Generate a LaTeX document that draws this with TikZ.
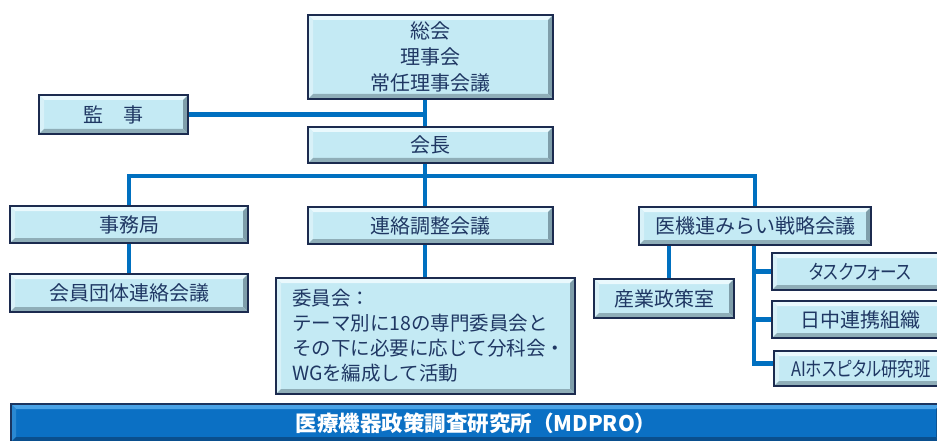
\documentclass[tikz,border=0pt]{standalone}
\usepackage{fontspec}
\setmainfont{Noto Sans CJK JP}
\newfontfamily\jpp[RawFeature=+palt]{Noto Sans CJK JP}
\definecolor{navy}{HTML}{1C2B4F}
\definecolor{txtc}{HTML}{1F3763}
\definecolor{boxfill}{HTML}{C4EAF4}
\definecolor{bvtop}{HTML}{EAF9FD}
\definecolor{bvleft}{HTML}{D8F1F8}
\definecolor{bvright}{HTML}{7F9EAA}
\definecolor{bvbot}{HTML}{8FAEB8}
\definecolor{linec}{HTML}{0070C0}
\definecolor{barfill}{HTML}{0B70C4}
\definecolor{bartop}{HTML}{4AA3E6}
\definecolor{barleft}{HTML}{2A88D2}
\definecolor{barright}{HTML}{0A5496}
\definecolor{barbot}{HTML}{0A4F8E}
\definecolor{barborder}{HTML}{1A3560}
\tikzset{
  bevel/.style n args={4}{path picture={
    \path (path picture bounding box.north west) coordinate (pnw)
          (path picture bounding box.south east) coordinate (pse);
    \coordinate (pne) at (pnw -| pse);
    \coordinate (psw) at (pse -| pnw);
    \fill[#1] (pnw) -- (pne) -- ([shift={(-5pt,-5pt)}]pne) -- ([shift={(5pt,-5pt)}]pnw) -- cycle;
    \fill[#2] (pnw) -- ([shift={(5pt,-5pt)}]pnw) -- ([shift={(5pt,5pt)}]psw) -- (psw) -- cycle;
    \fill[#3] (pne) -- (pse) -- ([shift={(-5pt,5pt)}]pse) -- ([shift={(-5pt,-5pt)}]pne) -- cycle;
    \fill[#4] (psw) -- (pse) -- ([shift={(-5pt,5pt)}]pse) -- ([shift={(5pt,5pt)}]psw) -- cycle;
  }},
  box/.style={draw=navy, line width=1.6pt, fill=boxfill, text=txtc,
    font=\fontsize{20}{26}\selectfont, inner sep=0pt, align=center,
    bevel={bvtop}{bvleft}{bvright}{bvbot}},
  barbox/.style={draw=barborder, line width=1.6pt, fill=barfill, text=white,
    font=\bfseries\fontsize{21.5}{25}\selectfont, inner sep=0pt,
    bevel={bartop}{barleft}{barright}{barbot}},
  conn/.style={draw=linec, line width=4.6pt, line join=miter}
}
\begin{document}
\begin{tikzpicture}[x=1pt,y=-1pt]
\useasboundingbox (0,0) rectangle (937,441);
\clip (0,0) rectangle (937,441);
% nodes
\node[box, minimum width=245, minimum height=84] (soukai) at (430.5,57) {総会\\理事会\\常任理事会議};
\node[box, minimum width=149, minimum height=39] (kansa) at (113.5,114.5) {監　事};
\node[box, minimum width=245, minimum height=36] (kaicho) at (430.5,145) {会長};
\node[box, minimum width=238, minimum height=37] (jimu) at (129,224.5) {事務局};
\node[box, minimum width=238, minimum height=38] (kaiin) at (129,293) {会員団体連絡会議};
\node[box, minimum width=245, minimum height=37] (renraku) at (430.5,225.5) {連絡調整会議};
\node[box, minimum width=299, minimum height=116, align=left, inner xsep=16pt, text width=267pt,
      font=\fontsize{19.5}{25}\selectfont] (iinkai) at (425.5,336)
      {委員会：\\テーマ別に18の専門委員会と\\その下に必要に応じて分科会・\\WGを編成して活動};
\node[box, minimum width=232, minimum height=38] (mirai) at (755,226) {医機連みらい戦略会議};
\node[box, minimum width=140, minimum height=39] (sangyo) at (664,298.5) {産業政策室};
\node[box, minimum width=176, minimum height=37] (task) at (860,271.5) {\scalebox{0.83}[1]{\jpp タスクフォース}};
\node[box, minimum width=176, minimum height=37] (nicchu) at (860,319.5) {日中連携組織};
\node[box, minimum width=174, minimum height=35] (ai) at (861,368.5) {\scalebox{0.82}[1]{\jpp AIホスピタル研究班}};
\node[barbox, minimum width=930, minimum height=38] (bar) at (476,423) {医療機器政策調査研究所（MDPRO）};
% helper coordinates
\coordinate (trunk) at (425,0);
\coordinate (bus) at (425,176);
\coordinate (m1) at (669,0);
\coordinate (m2) at (754,0);
% connectors
\draw[conn] (soukai.south -| trunk) -- (kaicho.north -| trunk);
\draw[conn] (kansa.east) -- (kansa.east -| trunk);
\draw[conn] (kaicho.south -| trunk) -- (renraku.north -| trunk);
\draw[conn] (jimu.north) |- (mirai.north |- bus) -- (mirai.north);
\draw[conn] (jimu.south) -- (kaiin.north);
\draw[conn] (renraku.south -| trunk) -- (iinkai.north -| trunk);
\draw[conn] (mirai.south -| m1) -- (sangyo.north -| m1);
\draw[conn] (mirai.south -| m2) |- ([yshift=5pt]ai.west);
\draw[conn] (m2 |- task.west) -- (task.west);
\draw[conn] (m2 |- nicchu.west) -- (nicchu.west);
\end{tikzpicture}
\end{document}
